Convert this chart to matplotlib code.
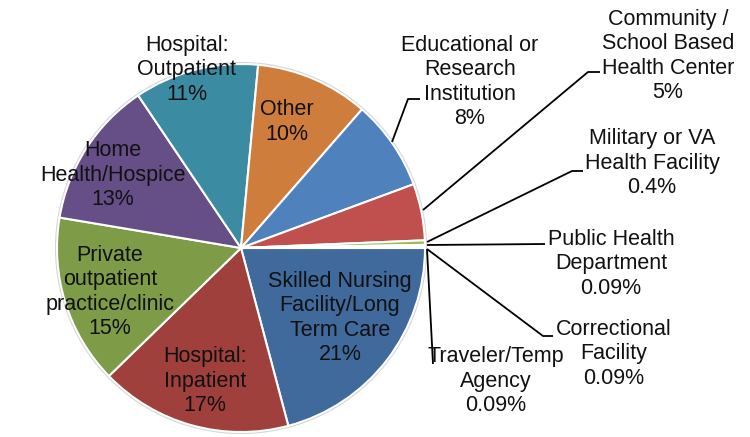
import matplotlib
matplotlib.use("Agg")
import matplotlib.pyplot as plt

# ---- data ----
categories = [
    "Skilled Nursing\nFacility/Long\nTerm Care",
    "Hospital:\nInpatient",
    "Private\noutpatient\npractice/clinic",
    "Home\nHealth/Hospice",
    "Hospital:\nOutpatient",
    "Other",
    "Educational or\nResearch\nInstitution",
    "Community /\nSchool Based\nHealth Center",
    "Military or VA\nHealth Facility",
    "Public Health\nDepartment",
    "Correctional\nFacility",
    "Traveler/Temp\nAgency",
]
values = [21, 17, 15, 13, 11, 10, 8, 5, 0.4, 0.09, 0.09, 0.09]
pct_labels = ["21%", "17%", "15%", "13%", "11%", "10%", "8%", "5%",
              "0.4%", "0.09%", "0.09%", "0.09%"]
colors = ["#40699C", "#9F403D", "#7E9B48", "#664E86", "#3B8BA2", "#CE7D3C",
          "#4F81BD", "#C0504D", "#9BBB59", "#8064A2", "#4BACC6", "#F79646"]

# ---- layout (image pixel coordinates, y downward) ----
W, H = 750, 437
center_px = (241, 248)
radius_px = 184
label_pos = [(340, 318), (205, 381), (110, 292), (113, 175), (187, 70),
             (287, 122), (470, 82), (668, 56), (652, 163), (611, 264),
             (614, 354), (496, 381)]
leaders = {
    6: [(392, 142), (408, 99), (420, 99)],
    7: [(423, 210), (588, 72), (600, 72)],
    8: [(427, 242), (572, 171), (583, 171)],
    9: [(427, 245), (545, 244)],
    10: [(427, 249), (543, 336), (553, 336)],
    11: [(427, 249), (433, 364)],
}

plt.rcParams['font.family'] = ['Liberation Sans', 'DejaVu Sans']

fig = plt.figure(figsize=(7.5, 4.37), dpi=100)
ax = fig.add_axes([0, 0, 1, 1])

def fy(y):
    return H - y

wedges, _ = ax.pie(values, colors=colors, startangle=0, counterclock=False,
                   center=(center_px[0], fy(center_px[1])), radius=radius_px,
                   wedgeprops=dict(edgecolor='white', linewidth=1.5),
                   frame=True)
ax.set_xlim(0, W)
ax.set_ylim(0, H)
ax.set_aspect('equal')
ax.axis('off')

# light rim around the pie
rim = plt.Circle((center_px[0], fy(center_px[1])), radius_px + 1,
                 fill=False, edgecolor='#d4d4d4', linewidth=1.5, zorder=0)
ax.add_patch(rim)

for i, (cat, pct) in enumerate(zip(categories, pct_labels)):
    x, y = label_pos[i]
    ax.text(x, fy(y), cat + "\n" + pct, ha='center', va='center',
            fontsize=15.5, color='#111111', linespacing=1.2, zorder=5)

for i, pts in leaders.items():
    xs = [p[0] for p in pts]
    ys = [fy(p[1]) for p in pts]
    ax.plot(xs, ys, color='black', linewidth=1.3, zorder=4,
            solid_capstyle='butt')

fig.savefig("out.png", dpi=100)
